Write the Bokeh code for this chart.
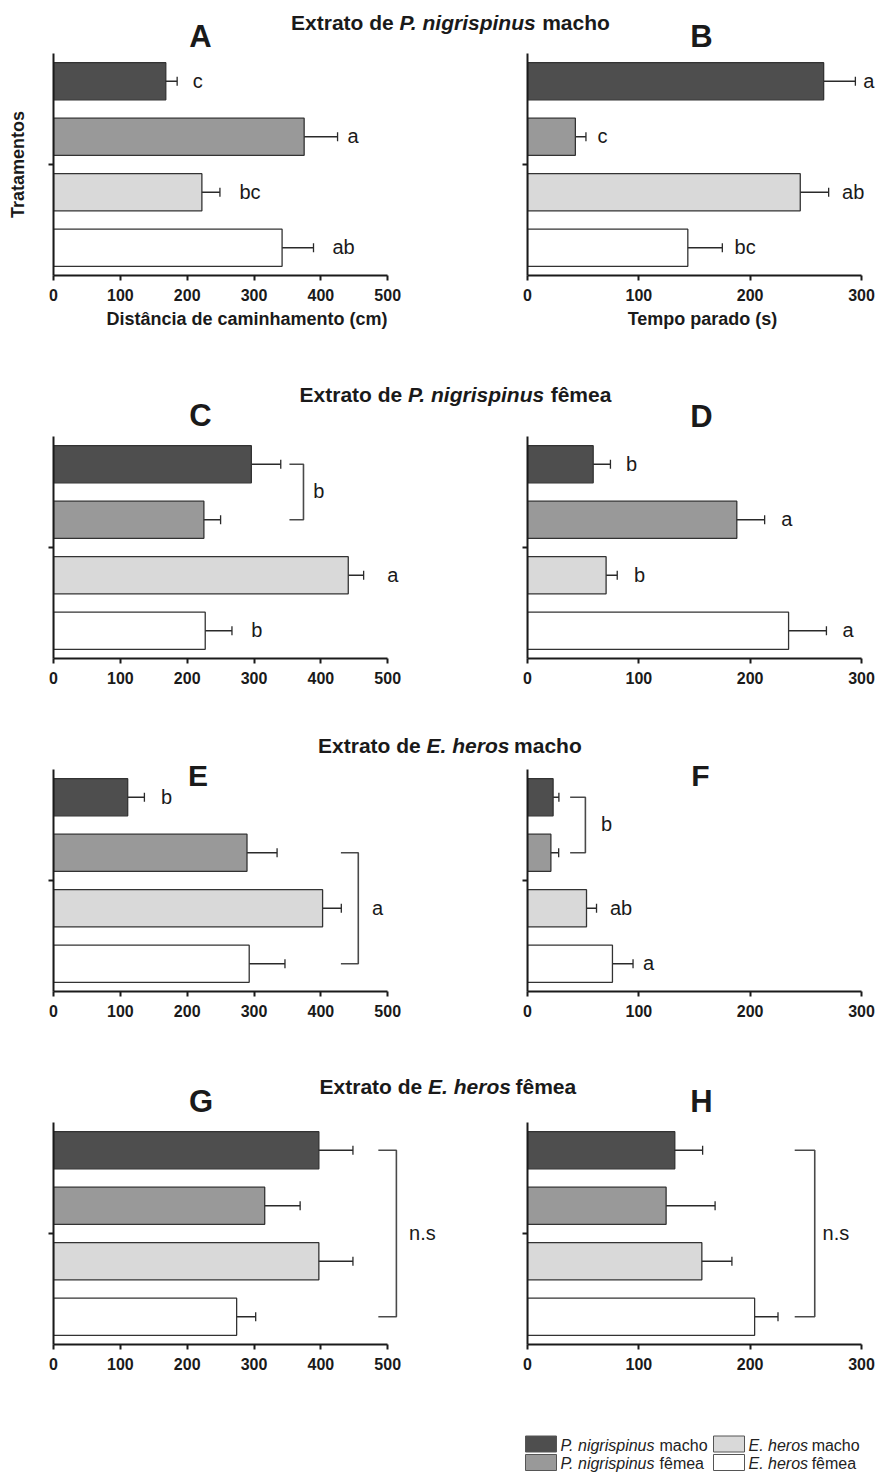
from bokeh.plotting import figure
from bokeh.models import Range1d, FixedTicker, ColumnDataSource, Whisker, TeeHead
from bokeh.layouts import column, row
from bokeh.embed import file_html
from bokeh.resources import INLINE
from bokeh.core.properties import value

# ---------------- data ----------------
treatments = ["P. nigrispinus macho", "P. nigrispinus fêmea", "E. heros macho", "E. heros fêmea"]
legend_species = ["P. nigrispinus", "P. nigrispinus", "E. heros", "E. heros"]
legend_sex = ["macho", "fêmea", "macho", "fêmea"]
bar_colors = ["#4e4e4e", "#999999", "#d9d9d9", "#ffffff"]

row_title_prefix = "Extrato de"
row_title_species = ["P. nigrispinus", "P. nigrispinus", "E. heros", "E. heros"]
row_title_sex = ["macho", "fêmea", "macho", "fêmea"]
panel_names = ["A", "B", "C", "D", "E", "F", "G", "H"]

dist_ticks = [0, 100, 200, 300, 400, 500]
time_ticks = [0, 100, 200, 300]
dist_label = "Distância de caminhamento (cm)"
time_label = "Tempo parado (s)"
y_label = "Tratamentos"

# Panel A - distance, P. nigrispinus male extract
A_mean = [168, 375, 222, 342]
A_err = [17, 50, 27, 47]
A_letters = ["c", "a", "bc", "ab"]
A_letter_x = [216, 448, 294, 434]

# Panel B - time stopped, P. nigrispinus male extract
B_mean = [266, 43, 245, 144]
B_err = [28.5, 9.5, 25.5, 31]
B_letters = ["a", "c", "ab", "bc"]
B_letter_x = [306.6, 67.4, 292.5, 195.5]

# Panel C
C_mean = [296, 225, 441, 227]
C_err = [44, 25, 23, 40]
C_letters = ["", "", "a", "b"]
C_letter_x = [0, 0, 507.5, 304]
C_group = "b"
C_group_x = 397
C_group_y = 1.5
C_bracket = [353, 374, 1, 2]

# Panel D
D_mean = [59, 188, 70.6, 234.5]
D_err = [15.5, 25, 10, 34]
D_letters = ["b", "a", "b", "a"]
D_letter_x = [93.4, 233, 100.6, 288]

# Panel E
E_mean = [111, 289.5, 402.6, 292.8]
E_err = [25, 45, 28, 53.5]
E_letters = ["b", "", "", ""]
E_letter_x = [169, 0, 0, 0]
E_group = "a"
E_group_x = 485
E_group_y = 3
E_bracket = [430, 456, 2, 4]

# Panel F
F_mean = [23, 21, 53, 76.3]
F_err = [5.2, 7, 9, 18.5]
F_letters = ["", "", "ab", "a"]
F_letter_x = [0, 0, 84, 108.7]
F_group = "b"
F_group_x = 71
F_group_y = 1.5
F_bracket = [38.3, 52, 1, 2]

# Panel G
G_mean = [397, 316, 397, 274]
G_err = [51, 53, 51, 28.5]
G_letters = ["", "", "", ""]
G_letter_x = [0, 0, 0, 0]
G_group = "n.s"
G_group_x = 552
G_group_y = 2.5
G_bracket = [486, 513, 1, 4]

# Panel H
H_mean = [132.3, 124.5, 156.6, 204]
H_err = [25, 44, 27, 21]
H_letters = ["", "", "", ""]
H_letter_x = [0, 0, 0, 0]
H_group = "n.s"
H_group_x = 277
H_group_y = 2.5
H_bracket = [240, 258, 1, 4]

# ---------------- layout / style ----------------
FONT = "Liberation Sans"
INK = "#1a1a1a"
OUTLINE = "#333333"
TOTAL_W = 877
LEFT_W, RIGHT_W = 440, 437
LEFT_MBL, RIGHT_MBL = 53, 87
LEFT_XEND = 579.0                     # frame 387 px -> 0.6684 px/unit
RIGHT_XEND = 350.0 / (334.0 / 300.0)  # frame 350 px -> 1.1133 px/unit
SLOT = 55.5                           # px per category slot
SHIFT = 0.33                          # em correction for the text baseline
ITALIC_TIGHTEN = 0.985                # italic runs render slightly narrower

ROWS = [
    dict(strip_top=0, strip_h=53, panel_h=317, mbt=0, mbb=95, ext=0, title_base=29.3, title_cx=451),
    dict(strip_top=370, strip_h=65, panel_h=265, mbt=1, mbb=42, ext=0, title_base=400.7, title_cx=456),
    dict(strip_top=700, strip_h=57, panel_h=273, mbt=0, mbb=39, ext=12, title_base=752.0, title_cx=450),
    dict(strip_top=1030, strip_h=89, panel_h=281, mbt=3, mbb=56, ext=0, title_base=1093.3, title_cx=448),
]
LEGEND_TOP, LEGEND_H = 1400, 77
LETTER_POS = {"A": (200, 46.0), "B": (701, 46.0), "C": (200, 425), "D": (701, 426),
              "E": (197.5, 785), "F": (700, 785), "G": (200.5, 1111), "H": (701, 1111)}
LETTER_SIZE = {"E": 30, "F": 30}
LETTERS_IN_STRIP = [True, True, False, True]

BOLD_W = {' ': 278, '.': 278, 'E': 667, 'P': 667, 'x': 556, 't': 333, 'r': 389, 'a': 556, 'o': 611,
          'd': 611, 'e': 556, 'n': 611, 'i': 278, 'g': 611, 's': 556, 'p': 611, 'u': 611, 'm': 889,
          'c': 556, 'h': 611, 'f': 333, 'ê': 556}
REG_W = {' ': 278, '.': 278, 'E': 667, 'P': 667, 'n': 556, 'i': 222, 'g': 556, 'r': 333, 's': 500,
         'p': 556, 'u': 556, 'm': 833, 'a': 556, 'c': 500, 'h': 556, 'o': 556, 'f': 278, 'ê': 556,
         'e': 556}


def tw(s, size, table):
    return sum(table.get(ch, 556) for ch in s) / 1000.0 * size


def add_text(p, x, y, t, size, style="normal", align="left", yoff=0.0, color=INK):
    p.text(x=[x], y=[y], text=[t], text_font=value(FONT), text_font_size=value("%dpx" % size),
           text_font_style=style, text_align=align, text_baseline="alphabetic",
           text_color=color, y_offset=yoff - SHIFT * size)


def blank_fig(h):
    return figure(width=TOTAL_W, height=h, x_range=Range1d(0, TOTAL_W), y_range=Range1d(h, 0),
                  x_axis_type=None, y_axis_type=None, min_border=0, toolbar_location=None,
                  output_backend="svg", outline_line_color=None)


def strip(i):
    cfg = ROWS[i]
    p = blank_fig(cfg["strip_h"])
    size = 21
    a = row_title_prefix
    b = row_title_species[i]
    c = row_title_sex[i]
    total = tw(a + " " + b + " " + c, size, BOLD_W)
    x0 = cfg["title_cx"] - total / 2
    yb = cfg["title_base"] - cfg["strip_top"]
    add_text(p, x0, yb, a, size, "bold")
    x1 = x0 + tw(a + " ", size, BOLD_W)
    add_text(p, x1, yb, b, size, "bold italic")
    x2 = x1 + tw(b, size, BOLD_W) * ITALIC_TIGHTEN + tw(" ", size, BOLD_W)
    add_text(p, x2, yb, c, size, "bold")
    if LETTERS_IN_STRIP[i]:
        for name in panel_names[2 * i:2 * i + 2]:
            px, py = LETTER_POS[name]
            add_text(p, px, py - cfg["strip_top"], name, LETTER_SIZE.get(name, 31), "bold", align="center")
    return p


def panel(i, side, mean, err, letters, letter_x, group=None, group_x=None, group_y=None,
          bracket=None, xlabel=None, ylabel=None):
    cfg = ROWS[i]
    if side == 0:
        w, mbl, xend, ticks, bnd = LEFT_W, LEFT_MBL, LEFT_XEND, dist_ticks, (0, 500)
        frame_left_page, scale = LEFT_MBL, 387.0 / LEFT_XEND
    else:
        w, mbl, xend, ticks, bnd = RIGHT_W, RIGHT_MBL, RIGHT_XEND, time_ticks, (0, 300)
        frame_left_page, scale = LEFT_W + RIGHT_MBL, 350.0 / RIGHT_XEND
    ytop = 0.5 - cfg["ext"] / SLOT
    p = figure(width=w, height=cfg["panel_h"], x_range=Range1d(0, xend), y_range=Range1d(4.5, ytop),
               min_border_left=mbl, min_border_right=0, min_border_top=cfg["mbt"],
               min_border_bottom=cfg["mbb"], toolbar_location=None, output_backend="svg",
               outline_line_color=None)
    p.xgrid.visible = False
    p.ygrid.visible = False

    ys = [1, 2, 3, 4]
    src = ColumnDataSource(dict(y=ys, mean=mean, lo=[m - e for m, e in zip(mean, err)],
                                hi=[m + e for m, e in zip(mean, err)], color=bar_colors))
    p.hbar(y="y", left=0, right="mean", height=0.67, fill_color="color", line_color=OUTLINE,
           line_width=1.3, source=src)
    wh = Whisker(source=src, base="y", lower="lo", upper="hi", dimension="width",
                 line_color="#2a2a2a", line_width=1.3,
                 upper_head=TeeHead(size=9, line_color="#2a2a2a", line_width=1.3),
                 lower_head=TeeHead(size=9, line_color="#2a2a2a", line_width=1.3))
    p.add_layout(wh)

    for y, t, x in zip(ys, letters, letter_x):
        if t:
            add_text(p, x, y, t, 20, align="center", yoff=6)
    if bracket is not None:
        x0, xv, yt, yb = bracket
        p.multi_line(xs=[[x0, xv, xv, x0]], ys=[[yt, yt, yb, yb]], line_color="#4a4a4a", line_width=1.6)
        add_text(p, group_x, group_y, group, 20, align="center", yoff=6)

    if not LETTERS_IN_STRIP[i]:
        name = panel_names[2 * i + side]
        px, py = LETTER_POS[name]
        axis_top_page = cfg["strip_top"] + cfg["strip_h"] + cfg["mbt"] + cfg["ext"]
        add_text(p, (px - frame_left_page) / scale, 0.5 + (py - axis_top_page) / SLOT, name,
                 LETTER_SIZE.get(name, 31), "bold", align="center")

    xa = p.xaxis[0]
    xa.ticker = FixedTicker(ticks=ticks)
    xa.bounds = bnd
    xa.axis_line_width = 2
    xa.axis_line_color = INK
    xa.major_tick_line_width = 2
    xa.major_tick_line_color = INK
    xa.major_tick_in = 0
    xa.major_tick_out = 5
    xa.minor_tick_line_color = None
    xa.major_label_text_font = FONT
    xa.major_label_text_font_style = "bold"
    xa.major_label_text_font_size = "16px"
    xa.major_label_text_color = INK
    xa.major_label_standoff = 8
    if xlabel:
        xa.axis_label = xlabel
        xa.axis_label_text_font = FONT
        xa.axis_label_text_font_style = "bold"
        xa.axis_label_text_font_size = "18px"
        xa.axis_label_text_color = INK
        xa.axis_label_standoff = 5

    ya = p.yaxis[0]
    ya.ticker = FixedTicker(ticks=[2.5])
    ya.bounds = (0.5, 4.5)
    ya.axis_line_width = 2
    ya.axis_line_color = INK
    ya.major_tick_line_width = 2
    ya.major_tick_line_color = INK
    ya.major_tick_in = 0
    ya.major_tick_out = 5
    ya.minor_tick_line_color = None
    ya.major_label_overrides = {2.5: ""}
    ya.major_label_standoff = 0
    if ylabel:
        ya.axis_label = ylabel
        ya.axis_label_text_font = FONT
        ya.axis_label_text_font_style = "bold"
        ya.axis_label_text_font_size = "18px"
        ya.axis_label_text_color = INK
        ya.axis_label_standoff = 21
    return p


def legend_strip():
    p = blank_fig(LEGEND_H)
    top = LEGEND_TOP
    box_x = [525, 525, 713, 713]
    box_y = [1443.5 - top, 1462 - top, 1443.5 - top, 1462 - top]
    base_y = [1450 - top, 1468.3 - top, 1450 - top, 1468.3 - top]
    text_x = [560, 560, 748, 748]
    p.rect(x=[bx + 15.5 for bx in box_x], y=box_y, width=31, height=16, fill_color=bar_colors,
           line_color="#555555", line_width=1)
    for k in range(4):
        add_text(p, text_x[k], base_y[k], legend_species[k], 16, "italic", color="#222222")
        xs = text_x[k] + tw(legend_species[k], 16, REG_W) * ITALIC_TIGHTEN + tw(" ", 16, REG_W)
        add_text(p, xs, base_y[k], legend_sex[k], 16, "normal", color="#222222")
    return p


pA = panel(0, 0, A_mean, A_err, A_letters, A_letter_x, xlabel=dist_label, ylabel=y_label)
pB = panel(0, 1, B_mean, B_err, B_letters, B_letter_x, xlabel=time_label)
pC = panel(1, 0, C_mean, C_err, C_letters, C_letter_x, C_group, C_group_x, C_group_y, C_bracket)
pD = panel(1, 1, D_mean, D_err, D_letters, D_letter_x)
pE = panel(2, 0, E_mean, E_err, E_letters, E_letter_x, E_group, E_group_x, E_group_y, E_bracket)
pF = panel(2, 1, F_mean, F_err, F_letters, F_letter_x, F_group, F_group_x, F_group_y, F_bracket)
pG = panel(3, 0, G_mean, G_err, G_letters, G_letter_x, G_group, G_group_x, G_group_y, G_bracket)
pH = panel(3, 1, H_mean, H_err, H_letters, H_letter_x, H_group, H_group_x, H_group_y, H_bracket)

layout = column(
    strip(0), row(pA, pB),
    strip(1), row(pC, pD),
    strip(2), row(pE, pF),
    strip(3), row(pG, pH),
    legend_strip(),
)

open("out.html", "w").write(file_html(layout, INLINE))
